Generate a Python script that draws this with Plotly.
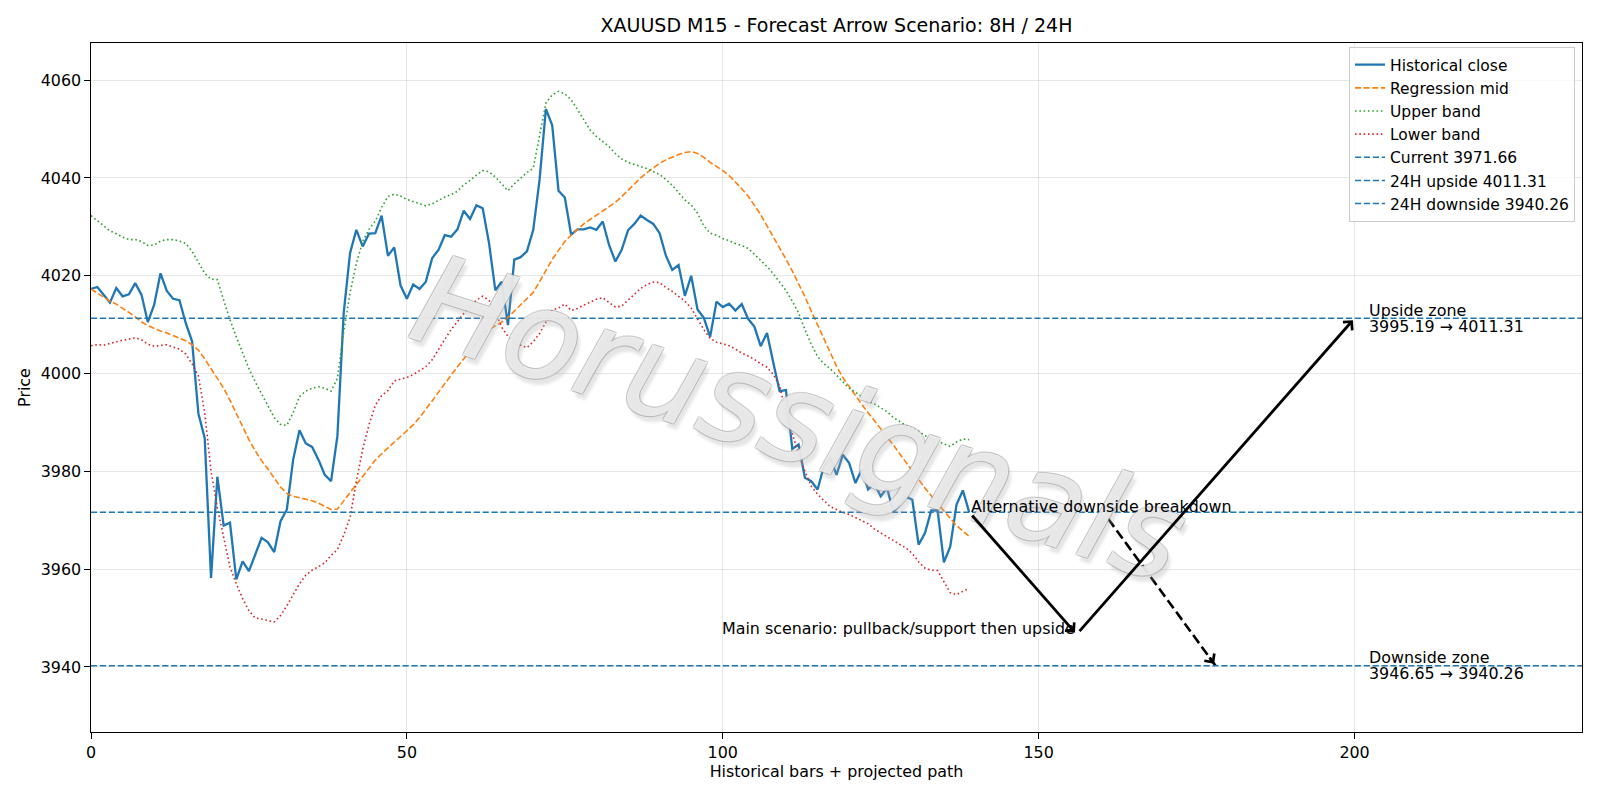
import plotly.graph_objects as go

# ---------------- data ----------------
bars = list(range(140))

hist_close = [
    4017.3, 4017.7, 4016.1, 4014.5, 4017.5, 4015.8, 4016.2, 4018.5, 4016.1, 4010.5,
    4014.1, 4020.5, 4016.9, 4015.3, 4015.0, 4010.3, 4006.6, 3991.8, 3986.8, 3958.2,
    3978.9, 3968.9, 3969.5, 3957.9, 3961.6, 3959.6, 3963.0, 3966.4, 3965.5, 3963.5,
    3969.8, 3972.2, 3982.4, 3988.4, 3985.7, 3985.0, 3982.4, 3979.3, 3978.0, 3987.2,
    4012.4, 4024.6, 4029.4, 4026.0, 4028.6, 4028.7, 4032.3, 4024.1, 4025.8, 4018.0,
    4015.3, 4018.2, 4017.3, 4018.8, 4023.6, 4025.3, 4028.3, 4028.0, 4029.5, 4033.3,
    4031.6, 4034.4, 4033.8, 4026.7, 4017.0, 4018.8, 4009.9, 4023.3, 4023.8, 4025.0,
    4029.4, 4039.6, 4054.1, 4050.8, 4037.4, 4036.0, 4028.4, 4029.5, 4029.5, 4029.9,
    4029.4, 4031.1, 4026.3, 4022.9, 4025.3, 4029.3, 4030.6, 4032.3, 4031.4, 4030.6,
    4028.7, 4024.1, 4021.2, 4022.2, 4015.9, 4020.0, 4013.1, 4011.4, 4007.5, 4014.7,
    4013.6, 4014.3, 4012.9, 4014.2, 4011.2, 4009.6, 4005.6, 4008.3, 4002.2, 3996.4,
    3996.6, 3984.6, 3985.5, 3978.7, 3978.0, 3976.3, 3981.0, 3982.8, 3979.3, 3983.4,
    3981.7, 3977.6, 3980.4, 3976.3, 3977.5, 3974.9, 3976.6, 3971.7, 3973.2, 3974.8,
    3974.2, 3965.0, 3967.4, 3972.0, 3972.0, 3961.4, 3964.6, 3973.2, 3976.1, 3971.66,
]

reg_mid = [
    4017.3, 4016.5, 4015.6, 4014.8, 4014.2, 4013.4, 4012.5, 4011.6, 4010.6, 4009.8,
    4009.2, 4008.7, 4008.3, 4007.8, 4007.3, 4006.7, 4005.9, 4004.8, 4003.0, 4001.0,
    3999.2, 3997.0, 3994.5, 3991.8, 3989.0, 3986.5, 3984.2, 3982.2, 3980.5, 3978.6,
    3976.8, 3975.5, 3974.9, 3974.6, 3974.3, 3974.0, 3973.5, 3972.9, 3972.2, 3972.3,
    3974.0, 3975.6, 3977.3, 3979.0, 3980.6, 3982.3, 3983.6, 3984.8, 3985.9, 3987.0,
    3988.2, 3989.5, 3991.0, 3992.6, 3994.4, 3996.2, 3998.0, 3999.7, 4001.4, 4003.0,
    4004.7, 4006.5, 4008.2, 4009.0, 4009.8, 4010.5, 4011.5, 4012.8, 4014.2, 4015.5,
    4016.6, 4018.8, 4021.2, 4023.3, 4025.2, 4027.0, 4028.3, 4029.5, 4030.6, 4031.5,
    4032.4, 4033.3, 4034.1, 4035.0, 4036.2, 4037.5, 4038.8, 4040.0, 4041.1, 4042.1,
    4043.0, 4043.7, 4044.3, 4044.8, 4045.2, 4045.4, 4045.0, 4044.2, 4043.2, 4042.4,
    4041.5, 4040.5, 4039.2, 4037.8, 4036.3, 4034.5, 4032.5, 4030.2, 4028.0, 4025.7,
    4023.4, 4021.0, 4018.5, 4015.7, 4012.8, 4010.0, 4007.3, 4004.5, 4001.5, 3999.2,
    3997.3, 3995.4, 3993.7, 3992.0, 3990.4, 3988.8, 3987.1, 3985.4, 3983.6, 3981.8,
    3980.0, 3978.2, 3976.6, 3975.0, 3973.4, 3971.9, 3970.4, 3968.9, 3967.8, 3966.7,
]

upper_band = [
    4032.3, 4031.2, 4030.2, 4029.2, 4028.6, 4027.9, 4027.4, 4027.4, 4027.0, 4026.2,
    4026.3, 4027.1, 4027.4, 4027.4, 4027.1, 4026.6, 4025.0, 4022.8, 4020.5, 4019.3,
    4019.2, 4015.0, 4011.0, 4007.5, 4004.3, 4001.0, 3998.3, 3995.8, 3993.5, 3991.0,
    3989.6, 3989.4, 3992.0, 3995.3, 3996.4, 3997.0, 3997.3, 3997.0, 3996.4, 3999.0,
    4008.5, 4016.5, 4022.5, 4027.0, 4029.5, 4031.2, 4034.0, 4036.2, 4036.7, 4036.3,
    4035.6, 4035.2, 4034.8, 4034.3, 4034.7, 4035.4, 4036.1, 4036.6, 4037.3, 4038.6,
    4039.5, 4040.6, 4041.5, 4041.3, 4040.2, 4038.8, 4037.4, 4038.8, 4040.0, 4041.1,
    4042.0, 4049.0, 4055.3, 4057.0, 4057.7, 4057.2, 4056.0, 4054.0, 4052.0, 4049.8,
    4048.5, 4047.5, 4046.4, 4045.0, 4043.9, 4043.2, 4042.8, 4042.4, 4041.9, 4041.3,
    4040.7, 4039.7, 4038.5, 4037.0, 4035.5, 4034.5, 4032.8, 4030.2, 4028.7, 4028.3,
    4027.6, 4027.2, 4026.6, 4026.2, 4025.6, 4024.4, 4023.2, 4021.9, 4020.4, 4018.7,
    4017.0, 4014.8, 4012.4, 4009.0, 4006.0, 4003.5, 4002.0, 4001.0, 3999.6, 3998.2,
    3997.0, 3996.2, 3995.2, 3994.3, 3993.8, 3993.0, 3992.2, 3991.0, 3990.2, 3989.4,
    3988.8, 3988.2, 3987.3, 3986.8, 3986.2, 3985.6, 3985.1, 3986.0, 3986.6, 3986.5,
]

lower_band = [
    4005.7, 4005.9, 4005.8, 4006.2, 4006.5, 4006.8, 4007.1, 4007.3, 4006.9, 4006.0,
    4005.6, 4005.8, 4005.9, 4005.4, 4005.0, 4004.0, 4002.0, 3999.5, 3992.0, 3980.0,
    3972.5, 3966.5, 3960.5, 3957.0, 3954.0, 3951.5, 3950.0, 3949.8, 3949.5, 3949.2,
    3950.5, 3952.5, 3954.8, 3957.0, 3958.8, 3959.8, 3960.5, 3961.3, 3962.8, 3964.0,
    3967.0, 3970.5, 3978.0, 3984.5, 3989.5, 3993.5, 3995.5, 3996.5, 3998.5, 3998.8,
    3999.2, 3999.8, 4000.6, 4001.4, 4002.8, 4005.0, 4007.0, 4009.0, 4010.7, 4012.3,
    4013.8, 4015.0, 4015.8, 4015.0, 4012.6, 4009.5, 4007.6, 4006.3, 4005.8, 4005.3,
    4006.5, 4008.2, 4010.5, 4013.0, 4013.4, 4014.2, 4012.9, 4013.3, 4014.0, 4014.6,
    4015.2, 4015.5, 4014.5, 4013.6, 4013.8, 4015.0, 4016.2, 4017.4, 4018.2, 4018.7,
    4018.6, 4017.6, 4016.8, 4015.8, 4014.8, 4013.4, 4011.2, 4009.0, 4007.2, 4006.4,
    4006.1, 4005.7, 4005.0, 4004.2, 4003.6, 4002.9, 4002.0, 4001.3, 3999.8, 3997.5,
    3992.0, 3987.5, 3983.5, 3980.0, 3977.0, 3975.3, 3974.0, 3972.8, 3972.2, 3971.6,
    3971.2, 3970.6, 3970.0, 3969.3, 3968.2, 3967.4, 3966.7, 3965.8, 3965.0, 3964.3,
    3963.2, 3961.5, 3960.2, 3959.8, 3959.7, 3957.5, 3955.2, 3954.8, 3955.5, 3956.1,
]

current_price = 3971.66
upside_24h = 4011.31
downside_24h = 3940.26
pullback_level = 3946.65
upside_zone_low = 3995.19

main_path_x = [139, 156, 200]
main_path_y = [current_price, pullback_level, upside_24h]
alt_path_x = [161, 178]
alt_path_y = [3970.3, downside_24h]
zone_label_x = 202

x_range = [0, 236]
y_range = [3926.7, 4067.6]
x_ticks = [0, 50, 100, 150, 200]
y_ticks = [3940, 3960, 3980, 4000, 4020, 4040, 4060]

# ---------------- style ----------------
FONT = "DejaVu Sans"
FS = 15.9
BLUE, ORANGE, GREEN, RED = "#1f77b4", "#ff7f0e", "#2ca02c", "#d62728"
W, H = 1600, 800
ML, MR, MT, MB = 91, 18, 43, 68
PW, PH = W - ML - MR, H - MT - MB

fig = go.Figure()

fig.add_trace(go.Scatter(x=bars, y=hist_close, mode="lines", name="Historical close",
                         line=dict(color=BLUE, width=2.3)))
fig.add_trace(go.Scatter(x=bars, y=reg_mid, mode="lines", name="Regression mid",
                         line=dict(color=ORANGE, width=1.6, dash="6px,2.6px")))
fig.add_trace(go.Scatter(x=bars, y=upper_band, mode="lines", name="Upper band",
                         line=dict(color=GREEN, width=1.6, dash="1.6px,2.7px")))
fig.add_trace(go.Scatter(x=bars, y=lower_band, mode="lines", name="Lower band",
                         line=dict(color=RED, width=1.6, dash="1.6px,2.7px")))

for lvl, nm in [(current_price, f"Current {current_price:.2f}"),
                (upside_24h, f"24H upside {upside_24h:.2f}"),
                (downside_24h, f"24H downside {downside_24h:.2f}")]:
    fig.add_shape(type="line", xref="x domain", yref="y", x0=0, x1=1, y0=lvl, y1=lvl,
                  line=dict(color=BLUE, width=1.5, dash="6.2px,2.7px"),
                  showlegend=True, name=nm, layer="above")

# alternative scenario dashed shaft
fig.add_trace(go.Scatter(x=alt_path_x, y=alt_path_y, mode="lines", showlegend=False,
                         hoverinfo="skip", line=dict(color="black", width=2.6, dash="10px,4.4px")))

annotations = []

# watermark first so labels are drawn over it
oc = "rgba(150,150,150,0.5)"
shadow = (f"-1px -1px 0 {oc}, 1px -1px 0 {oc}, -1px 1px 0 {oc}, 1px 1px 0 {oc}, "
          "5px 5px 3px rgba(165,165,165,0.4)")
annotations.append(dict(
    x=0.475, y=0.455, xref="paper", yref="paper", text="Horussignals", showarrow=False,
    textangle=18, xanchor="center", yanchor="middle",
    font=dict(family=FONT, size=125, color="rgba(255,255,255,0.74)", style="italic",
              shadow=shadow)))

# main scenario arrows
for i in range(len(main_path_x) - 1):
    annotations.append(dict(
        x=main_path_x[i + 1], y=main_path_y[i + 1], ax=main_path_x[i], ay=main_path_y[i],
        xref="x", yref="y", axref="x", ayref="y", text="", showarrow=True,
        arrowhead=4, arrowsize=0.85, arrowwidth=2.8, arrowcolor="black",
        standoff=2.5, startstandoff=2.5))

# alternative arrow head (short arrow along the dashed shaft direction)
px_x = PW / (x_range[1] - x_range[0])
px_y = PH / (y_range[1] - y_range[0])
dxp = (alt_path_x[0] - alt_path_x[1]) * px_x
dyp = -(alt_path_y[0] - alt_path_y[1]) * px_y
norm = (dxp ** 2 + dyp ** 2) ** 0.5
annotations.append(dict(
    x=alt_path_x[1], y=alt_path_y[1], xref="x", yref="y",
    ax=dxp / norm * 12, ay=dyp / norm * 12, text="", showarrow=True,
    arrowhead=4, arrowsize=0.85, arrowwidth=2.8, arrowcolor="black", standoff=2.5))

txt_font = dict(family=FONT, size=FS, color="black")
annotations += [
    dict(x=main_path_x[1], y=pullback_level, xref="x", yref="y",
         text="Main scenario: pullback/support then upside", showarrow=False,
         xanchor="right", yanchor="middle", yshift=5.5, font=txt_font),
    dict(x=main_path_x[0], y=current_price, xref="x", yref="y",
         text="Alternative downside breakdown", showarrow=False,
         xanchor="left", yanchor="middle", yshift=5.5, font=txt_font),
]
for lvl, title, lo, hi in [(upside_24h, "Upside zone", upside_zone_low, upside_24h),
                           (downside_24h, "Downside zone", pullback_level, downside_24h)]:
    annotations.append(dict(x=zone_label_x, y=lvl, xref="x", yref="y", text=title,
                            showarrow=False, xanchor="left", yanchor="middle",
                            yshift=8.2, font=txt_font))
    annotations.append(dict(x=zone_label_x, y=lvl, xref="x", yref="y",
                            text=f"{lo:.2f} \u2192 {hi:.2f}",
                            showarrow=False, xanchor="left", yanchor="middle",
                            yshift=-8.2, font=txt_font))

axis_common = dict(showline=True, linecolor="black", linewidth=1.25, mirror=True,
                   ticks="outside", ticklen=5.5, tickwidth=1.25, tickcolor="black",
                   showgrid=True, gridcolor="rgba(176,176,176,0.3)", gridwidth=1.1,
                   zeroline=False, tickfont=dict(family=FONT, size=FS, color="black"))

fig.update_layout(
    width=W, height=H,
    margin=dict(l=ML, r=MR, t=MT, b=MB),
    paper_bgcolor="white", plot_bgcolor="white",
    font=dict(family=FONT, size=FS, color="black"),
    title=dict(text="XAUUSD M15 - Forecast Arrow Scenario: 8H / 24H",
               x=(ML + PW / 2) / W, xanchor="center", y=1 - 25.5 / H, yanchor="middle",
               font=dict(family=FONT, size=19, color="black")),
    xaxis=dict(range=x_range, tickvals=x_ticks,
               title=dict(text="Historical bars + projected path", standoff=5,
                          font=dict(family=FONT, size=FS)),
               **axis_common),
    yaxis=dict(range=y_range, tickvals=y_ticks,
               title=dict(text="Price", standoff=6, font=dict(family=FONT, size=FS)),
               **axis_common),
    legend=dict(x=0.9953, y=0.994, xanchor="right", yanchor="top",
                bgcolor="rgba(255,255,255,0.8)", bordercolor="#cccccc", borderwidth=1,
                itemwidth=30,
                font=dict(family=FONT, size=15.5, color="black")),
    annotations=annotations,
    showlegend=True,
)

fig.write_html("out.html")
